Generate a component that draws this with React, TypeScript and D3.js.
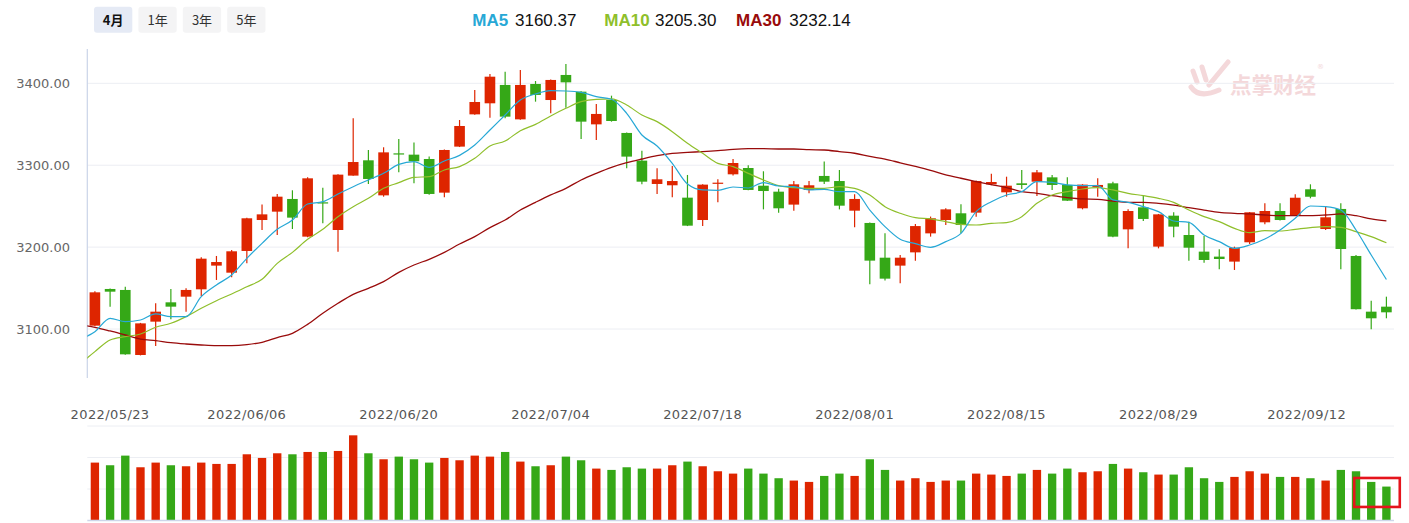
import React from "react";
import * as d3 from "d3";

// ---------- data ----------
const dates = [
  "2022/05/20","2022/05/23","2022/05/24","2022/05/25","2022/05/26","2022/05/27","2022/05/30","2022/05/31",
  "2022/06/01","2022/06/02","2022/06/06","2022/06/07","2022/06/08","2022/06/09","2022/06/10",
  "2022/06/13","2022/06/14","2022/06/15","2022/06/16","2022/06/17","2022/06/20","2022/06/21","2022/06/22",
  "2022/06/23","2022/06/24","2022/06/27","2022/06/28","2022/06/29","2022/06/30","2022/07/01",
  "2022/07/04","2022/07/05","2022/07/06","2022/07/07","2022/07/08","2022/07/11","2022/07/12","2022/07/13",
  "2022/07/14","2022/07/15","2022/07/18","2022/07/19","2022/07/20","2022/07/21","2022/07/22",
  "2022/07/25","2022/07/26","2022/07/27","2022/07/28","2022/07/29","2022/08/01","2022/08/02","2022/08/03",
  "2022/08/04","2022/08/05","2022/08/08","2022/08/09","2022/08/10","2022/08/11","2022/08/12",
  "2022/08/15","2022/08/16","2022/08/17","2022/08/18","2022/08/19","2022/08/22","2022/08/23","2022/08/24",
  "2022/08/25","2022/08/26","2022/08/29","2022/08/30","2022/08/31","2022/09/01","2022/09/02",
  "2022/09/05","2022/09/06","2022/09/07","2022/09/08","2022/09/09","2022/09/13","2022/09/14","2022/09/15",
  "2022/09/16","2022/09/19","2022/09/20",
];

const open = [
  3104.1,3148.9,3147.7,3068.3,3109.0,3132.6,3139.5,3148.5,3177.4,3168.8,
  3195.3,3233.1,3243.3,3258.8,3212.8,3254.7,3220.9,3287.3,3306.0,3263.2,
  3314.5,3312.9,3307.6,3266.5,3322.7,3362.1,3375.6,3398.0,3356.0,3399.2,
  3379.6,3410.2,3389.8,3349.9,3379.6,3339.4,3305.6,3277.1,3275.5,3260.4,
  3233.1,3277.9,3288.9,3296.6,3275.0,3267.7,3251.9,3269.8,3286.9,3280.7,
  3244.5,3229.5,3187.1,3177.4,3193.6,3216.8,3233.1,3241.3,3242.1,3276.6,
  3266.9,3277.9,3279.9,3285.2,3275.9,3247.4,3273.0,3277.9,3221.7,3248.6,
  3200.6,3238.4,3214.8,3194.5,3188.4,3182.3,3205.9,3230.3,3244.1,3238.4,
  3270.6,3222.1,3246.6,3189.2,3121.2,3127.3,
];
const close = [
  3144.8,3145.6,3069.1,3106.9,3121.2,3127.3,3147.7,3185.9,3181.8,3194.9,
  3235.2,3240.0,3261.6,3236.0,3284.0,3253.5,3288.5,3303.9,3283.2,3315.7,
  3313.7,3304.8,3264.9,3318.6,3347.9,3377.2,3408.1,3359.3,3398.0,3385.8,
  3404.1,3401.2,3353.2,3362.6,3354.0,3310.5,3279.9,3282.8,3280.7,3226.2,
  3276.3,3278.7,3302.7,3269.8,3268.5,3247.4,3276.7,3275.5,3279.9,3250.6,
  3258.8,3183.5,3161.5,3187.1,3225.7,3235.2,3246.1,3227.0,3280.7,3279.5,
  3275.0,3275.9,3291.3,3275.9,3256.7,3276.3,3275.9,3212.8,3244.1,3234.4,
  3240.0,3225.0,3199.3,3184.3,3185.5,3199.3,3242.5,3244.1,3233.1,3260.3,
  3261.5,3236.4,3197.7,3124.2,3113.1,3120.4,
];
const high = [
  3146.0,3149.5,3151.7,3107.5,3131.4,3148.9,3149.7,3187.5,3189.2,3196.5,
  3235.8,3251.9,3264.9,3269.4,3285.2,3272.6,3289.0,3357.3,3318.6,3321.9,
  3332.0,3327.6,3310.5,3319.2,3355.2,3391.9,3411.4,3414.2,3416.3,3402.8,
  3404.6,3423.6,3390.3,3374.8,3384.9,3339.9,3317.8,3296.2,3299.1,3288.1,
  3276.8,3282.8,3307.6,3299.9,3292.6,3271.4,3280.7,3280.7,3304.4,3294.2,
  3264.5,3230.0,3216.8,3190.4,3228.2,3237.3,3247.4,3252.3,3281.2,3289.7,
  3286.0,3294.2,3294.2,3288.1,3285.2,3276.8,3284.0,3279.9,3246.1,3263.6,
  3240.5,3242.5,3231.1,3213.6,3197.3,3200.6,3243.0,3253.5,3253.5,3264.5,
  3276.7,3250.2,3253.5,3190.4,3134.6,3139.5,
];
const low = [
  3103.5,3127.3,3068.5,3067.8,3079.3,3111.8,3121.2,3140.3,3159.9,3163.1,
  3180.2,3220.9,3214.8,3222.1,3212.0,3229.1,3194.5,3287.0,3277.1,3261.6,
  3291.3,3277.9,3264.0,3260.8,3322.2,3361.6,3358.1,3357.3,3355.5,3377.6,
  3363.4,3370.3,3332.0,3330.8,3353.2,3296.2,3276.7,3264.9,3260.8,3225.7,
  3225.8,3254.7,3287.3,3269.3,3246.1,3242.1,3244.5,3265.7,3277.1,3246.1,
  3224.2,3154.6,3159.1,3155.8,3183.5,3212.8,3227.0,3216.8,3237.2,3275.5,
  3261.6,3271.0,3262.4,3269.8,3256.2,3246.1,3261.6,3212.0,3198.5,3231.9,
  3198.5,3211.9,3183.5,3181.0,3172.9,3172.1,3203.8,3227.8,3232.6,3237.9,
  3259.6,3220.9,3172.9,3123.7,3099.6,3113.1,
];

// trading volume (relative units)
const volume = [
  183.8,175.4,206.0,169.0,183.8,175.4,172.2,183.8,179.6,179.6,
  210.2,198.6,213.4,210.2,217.6,217.6,220.8,270.4,213.4,194.4,
  202.8,194.4,183.8,198.6,191.2,206.0,202.8,217.6,187.0,172.2,
  175.4,202.8,191.2,164.8,160.6,169.0,164.8,164.8,175.4,187.0,
  172.2,156.3,148.9,164.8,148.9,134.2,126.8,122.5,141.5,148.9,
  141.5,194.4,160.6,126.8,134.2,122.5,126.8,126.8,148.9,145.8,
  141.5,148.9,160.6,148.9,164.8,153.2,156.3,179.6,164.8,153.2,
  145.8,145.8,169.0,134.2,122.5,138.4,156.3,148.9,138.4,138.4,
  134.2,126.8,160.6,156.3,122.5,107.7,
];

// moving averages; first value belongs to the session before 2022/05/20
const ma5 = [
  3087.0,
  3096.8,3113.1,3109.0,3111.0,3118.4,3115.1,3115.1,3139.5,3153.8,3166.0,
  3186.3,3204.6,3221.7,3233.1,3252.7,3255.5,3264.9,3273.8,3282.0,3290.1,
  3301.1,3304.4,3297.4,3305.2,3312.0,3324.7,3343.0,3361.3,3379.6,3387.0,
  3391.0,3390.6,3389.0,3383.7,3380.5,3363.4,3336.9,3323.5,3302.3,3277.1,
  3269.8,3269.4,3273.4,3272.2,3278.7,3274.6,3273.8,3269.8,3270.6,3267.7,
  3267.7,3245.3,3225.0,3209.5,3204.2,3199.8,3206.7,3216.8,3243.3,3255.5,
  3263.7,3267.7,3279.9,3279.1,3275.9,3275.1,3275.1,3257.6,3254.7,3249.4,
  3243.3,3231.9,3230.3,3214.8,3206.7,3198.5,3202.6,3209.9,3220.9,3235.2,
  3250.2,3249.4,3245.3,3220.9,3190.4,3160.4,
];
const ma10 = [
  3057.0,
  3072.4,3086.6,3090.7,3093.9,3102.1,3107.0,3115.1,3125.3,3134.6,3142.8,
  3151.7,3160.7,3180.2,3193.6,3209.5,3221.7,3237.2,3249.4,3259.6,3271.8,
  3278.7,3285.2,3286.0,3294.2,3298.3,3308.4,3323.5,3329.6,3342.2,3349.9,
  3360.1,3369.5,3377.6,3380.5,3380.9,3373.5,3361.3,3353.2,3341.0,3326.7,
  3314.5,3302.3,3298.3,3290.1,3282.0,3275.1,3272.6,3271.8,3271.8,3273.8,
  3271.8,3263.7,3249.4,3241.3,3236.0,3234.4,3231.1,3227.8,3227.0,3229.1,
  3229.9,3237.2,3253.5,3263.7,3267.7,3271.0,3272.6,3269.8,3265.7,3262.8,
  3259.6,3254.7,3245.3,3237.2,3231.1,3222.9,3217.7,3220.1,3219.7,3221.7,
  3223.8,3225.0,3224.2,3218.9,3212.8,3205.3,
];
const ma30 = [
  3105.3,
  3102.1,3097.6,3092.7,3087.8,3085.8,3083.3,3081.7,3080.5,3079.7,3079.7,
  3080.9,3083.8,3089.5,3094.8,3105.7,3119.2,3131.4,3142.4,3149.7,3157.8,
  3169.2,3178.2,3185.1,3193.6,3203.8,3212.8,3223.8,3233.1,3245.3,3254.7,
  3263.7,3271.8,3282.0,3290.1,3297.4,3303.1,3307.6,3311.7,3314.5,3315.7,
  3316.6,3317.8,3319.4,3320.2,3320.2,3319.8,3319.8,3319.0,3318.6,3316.6,
  3314.6,3310.8,3307.5,3303.0,3298.5,3293.7,3288.3,3284.1,3280.1,3276.3,
  3272.6,3267.7,3265.7,3262.8,3260.4,3258.8,3258.4,3256.3,3254.7,3254.7,
  3253.5,3251.4,3248.2,3245.3,3242.5,3241.3,3240.5,3239.2,3238.4,3238.4,
  3238.4,3239.2,3240.5,3238.4,3234.4,3232.1,
];

const priceTicks = [3100, 3200, 3300, 3400];
const volumeTicks = [100, 200, 300];
const dateTicks = [
  "2022/05/23","2022/06/06","2022/06/20","2022/07/04","2022/07/18",
  "2022/08/01","2022/08/15","2022/08/29","2022/09/12",
];
const rangeButtons = ["4月", "1年", "3年", "5年"];
const legendItems = [
  { name: "MA5", value: "3160.37", color: "#27a8d6" },
  { name: "MA10", value: "3205.30", color: "#8fbf2b" },
  { name: "MA30", value: "3232.14", color: "#990b0b" },
];
const highlight = { from: 84, to: 85, volLow: 43, volHigh: 135 };

// ---------- styling / layout ----------
const W = 1409;
const H = 523;
const RED = "#de2500";
const GREEN = "#35a817";
const plot = { left: 87.3, right: 1394, top: 49, bottom: 378 };
const vol = { top: 426, bottom: 520.5 };

export default function App() {
  const n = dates.length;
  const x = d3.scaleBand<number>().domain(d3.range(n)).range([plot.left, plot.right]).padding(0);
  const bw = x.bandwidth();
  const xc = d3
    .scaleLinear()
    .domain([0, n - 1])
    .range([(x(0) as number) + bw / 2, (x(n - 1) as number) + bw / 2]);
  const y = d3.scaleLinear().domain([3040.2, 3441.9]).range([plot.bottom, plot.top]);
  const yv = d3.scaleLinear().domain([0, 300]).range([vol.bottom, vol.top]);

  const parse = d3.timeParse("%Y/%m/%d");
  const dateObjs = dates.map((d) => parse(d) as Date);
  // position of a calendar date on the trading-day axis
  const datePos = (s: string) => {
    const t = (parse(s) as Date).getTime();
    const k = dates.indexOf(s);
    if (k >= 0) return k;
    const j = d3.bisector((d: Date) => d.getTime()).left(dateObjs, t);
    const a = dateObjs[j - 1].getTime();
    const b = dateObjs[j].getTime();
    return j - 1 + (t - a) / (b - a);
  };

  const maLine = (arr: number[]) =>
    d3
      .line<number>()
      .x((_, i) => xc(i - 1))
      .y((v) => y(v))
      .curve(d3.curveMonotoneX)(arr) as string;

  const bodyW = bw * 0.7;
  const volW = bw * 0.55;

  const hx0 = (x(highlight.from) as number) - bw * 0.62;
  const hx1 = (x(highlight.to) as number) + bw * 1.38;

  return (
    <svg
      width={W}
      height={H}
      style={{ position: "absolute", left: 0, top: 0, background: "#fff" }}
    >
      <defs>
        <clipPath id="plotClip">
          <rect x={plot.left} y={plot.top} width={plot.right - plot.left} height={plot.bottom - plot.top} />
        </clipPath>
      </defs>

      {/* range buttons */}
      {rangeButtons.map((b, i) => (
        <g key={b} transform={`translate(${94 + i * 44.4},6.7)`}>
          <rect width={38.3} height={26} rx={3} fill={i === 0 ? "#e5eaf5" : "#f4f4f5"} />
          <text
            x={19.2}
            y={18}
            textAnchor="middle"
            fontFamily="'Noto Sans CJK SC', sans-serif"
            fontSize={13}
            fontWeight={i === 0 ? 700 : 400}
            fill={i === 0 ? "#111" : "#333"}
          >
            {b}
          </text>
        </g>
      ))}

      {/* legend */}
      {legendItems.map((it, i) => {
        const xs = [472.3, 604.3, 736][i];
        const xv = [515, 655, 789.3][i];
        return (
          <g key={it.name} fontFamily="'Liberation Sans', Arial, sans-serif" fontSize={17}>
            <text x={xs} y={26} fill={it.color} fontWeight={700}>
              {it.name}
            </text>
            <text x={xv} y={26} fill="#111">
              {it.value}
            </text>
          </g>
        );
      })}

      {/* watermark */}
      <g opacity={0.9}>
        <g stroke="#f3d4d7" strokeWidth={5} strokeLinecap="round" fill="none">
          <path d="M1193,71 L1197,82" />
          <path d="M1202,67 L1206,80" />
          <path d="M1228,62 L1209,85" />
          <path d="M1191,87 Q1199,99 1219,90" />
        </g>
        <text
          x={1230}
          y={93}
          fontFamily="'Noto Sans CJK SC', sans-serif"
          fontSize={21.5}
          fontWeight={700}
          fill="#f3d4d7"
        >
          点掌财经
        </text>
        <text x={1317} y={69} fontFamily="'DejaVu Sans', sans-serif" fontSize={7} fill="#f3d4d7">
          ®
        </text>
      </g>

      {/* price grid */}
      {priceTicks.map((t) => (
        <g key={t}>
          <line x1={plot.left} x2={plot.right} y1={y(t)} y2={y(t)} stroke="#eceef3" strokeWidth={1} />
          <text
            x={70}
            y={y(t)}
            dy="0.36em"
            textAnchor="end"
            fontFamily="'DejaVu Sans', sans-serif"
            fontSize={13}
            fill="#666"
          >
            {d3.format(".2f")(t)}
          </text>
        </g>
      ))}
      <line x1={plot.left} x2={plot.left} y1={plot.top} y2={plot.bottom} stroke="#cad4e8" strokeWidth={1.2} />

      {/* candles */}
      {dates.map((d, i) => {
        const up = close[i] >= open[i];
        const col = up ? RED : GREEN;
        const cx = (x(i) as number) + bw / 2;
        const yTop = y(Math.max(open[i], close[i]));
        const yBot = y(Math.min(open[i], close[i]));
        return (
          <g key={d}>
            <line x1={cx} x2={cx} y1={y(high[i])} y2={y(low[i])} stroke={col} strokeWidth={1.2} />
            <rect x={cx - bodyW / 2} y={yTop} width={bodyW} height={Math.max(1.2, yBot - yTop)} fill={col} />
          </g>
        );
      })}

      {/* moving averages */}
      <g clipPath="url(#plotClip)" fill="none">
        <path d={maLine(ma30)} stroke="#990b0b" strokeWidth={1.3} />
        <path d={maLine(ma10)} stroke="#8fbf2b" strokeWidth={1.2} />
        <path d={maLine(ma5)} stroke="#27a8d6" strokeWidth={1.2} />
      </g>

      {/* date labels */}
      {dateTicks.map((s) => (
        <text
          key={s}
          x={xc(datePos(s))}
          y={419}
          textAnchor="middle"
          fontFamily="'DejaVu Sans', sans-serif"
          fontSize={13}
          letterSpacing={0.4}
          fill="#555"
        >
          {s}
        </text>
      ))}

      {/* volume grid */}
      {volumeTicks.map((t) => (
        <line key={t} x1={plot.left} x2={plot.right} y1={yv(t)} y2={yv(t)} stroke="#eceef3" strokeWidth={1} />
      ))}

      {/* volume bars */}
      {volume.map((v, i) => {
        const up = close[i] >= open[i];
        const cx = (x(i) as number) + bw / 2;
        return (
          <rect
            key={i}
            x={cx - volW / 2}
            y={yv(v)}
            width={volW}
            height={yv(0) - yv(v)}
            fill={up ? RED : GREEN}
          />
        );
      })}
      <line x1={plot.left} x2={plot.right} y1={yv(0)} y2={yv(0)} stroke="#cdd6ea" strokeWidth={1.5} />

      {/* highlight box */}
      <rect
        x={hx0}
        y={yv(highlight.volHigh)}
        width={hx1 - hx0}
        height={yv(highlight.volLow) - yv(highlight.volHigh)}
        fill="none"
        stroke="#e5141c"
        strokeWidth={2.6}
      />
    </svg>
  );
}
